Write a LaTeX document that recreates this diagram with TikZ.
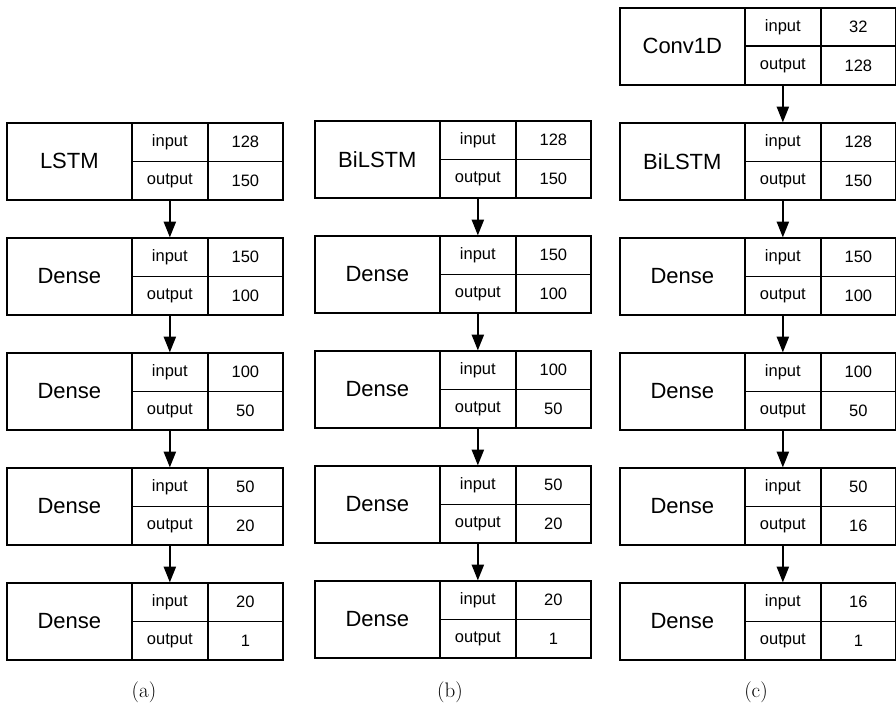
\documentclass[tikz,border=0pt]{standalone}
\usepackage{fontspec}
\newfontfamily\labfont{Liberation Sans}
\usetikzlibrary{arrows.meta}
\tikzset{
  cellbox/.style={draw=black, line width=1.7pt, minimum height=38.5pt, inner sep=0pt, anchor=north west, font=\labfont\fontsize{16.5}{16.5}\selectfont},
  namebox/.style={draw=black, line width=1.7pt, minimum width=125pt, minimum height=77pt, inner sep=0pt, anchor=north west, font=\labfont\fontsize{22}{22}\selectfont},
  flow/.style={-{Triangle[length=16pt,width=12pt]}, line width=2.5pt, shorten >=-0.5pt},
  caption/.style={font=\fontsize{21}{21}\selectfont}
}
\newcommand\blk[6]{%
  \node[namebox] (#1) at (#2,#3) {#4};
  \node[cellbox, minimum width=76pt] (#1i) at ({#2+125},#3) {input};
  \node[cellbox, minimum width=75pt] (#1iv) at ({#2+201},#3) {#5};
  \node[cellbox, minimum width=76pt] (#1o) at ({#2+125},{#3+38.5}) {output};
  \node[cellbox, minimum width=75pt] (#1ov) at ({#2+201},{#3+38.5}) {#6};
}
\begin{document}
\begin{tikzpicture}[x=1pt,y=-1pt]
\useasboundingbox (0,0) rectangle (896,709);
% column (a)
\blk{a1}{6}{122}{LSTM}{128}{150}
\blk{a2}{6}{237}{Dense}{150}{100}
\blk{a3}{6}{352}{Dense}{100}{50}
\blk{a4}{6}{467}{Dense}{50}{20}
\blk{a5}{6}{582}{Dense}{20}{1}
\draw[flow] (a1o.south) -- (a2i.north);
\draw[flow] (a2o.south) -- (a3i.north);
\draw[flow] (a3o.south) -- (a4i.north);
\draw[flow] (a4o.south) -- (a5i.north);
% column (b)
\blk{b1}{314}{120}{BiLSTM}{128}{150}
\blk{b2}{314}{235}{Dense}{150}{100}
\blk{b3}{314}{350}{Dense}{100}{50}
\blk{b4}{314}{465}{Dense}{50}{20}
\blk{b5}{314}{580}{Dense}{20}{1}
\draw[flow] (b1o.south) -- (b2i.north);
\draw[flow] (b2o.south) -- (b3i.north);
\draw[flow] (b3o.south) -- (b4i.north);
\draw[flow] (b4o.south) -- (b5i.north);
% column (c)
\blk{c0}{619}{7}{Conv1D}{32}{128}
\blk{c1}{619}{122}{BiLSTM}{128}{150}
\blk{c2}{619}{237}{Dense}{150}{100}
\blk{c3}{619}{352}{Dense}{100}{50}
\blk{c4}{619}{467}{Dense}{50}{16}
\blk{c5}{619}{582}{Dense}{16}{1}
\draw[flow] (c0o.south) -- (c1i.north);
\draw[flow] (c1o.south) -- (c2i.north);
\draw[flow] (c2o.south) -- (c3i.north);
\draw[flow] (c3o.south) -- (c4i.north);
\draw[flow] (c4o.south) -- (c5i.north);
% captions
\node[caption] (capa) at (144,692) {(a)};
\node[caption] (capb) at (450,692) {(b)};
\node[caption] (capc) at (756,692) {(c)};
\end{tikzpicture}
\end{document}
